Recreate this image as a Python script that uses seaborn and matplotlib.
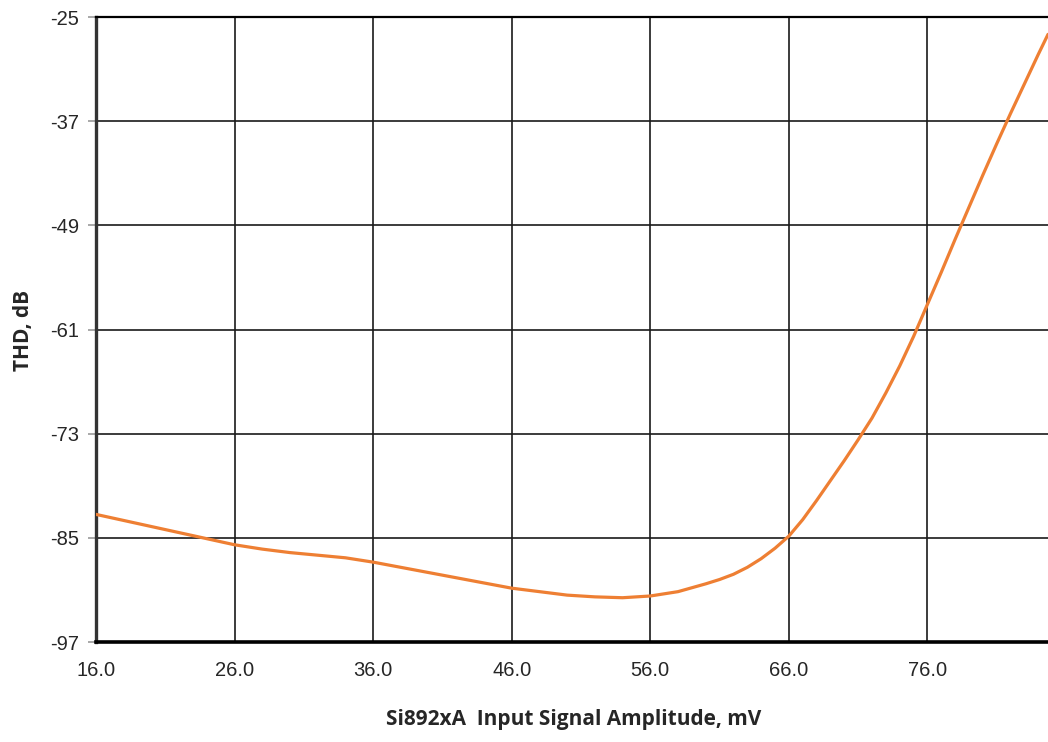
import matplotlib
matplotlib.use("Agg")
import matplotlib.pyplot as plt
import seaborn as sns
import pandas as pd

# Data
amplitude_mv = [16, 18, 20, 22, 24, 26, 28, 30, 32, 34, 36, 38, 40, 42, 44, 46, 48, 50,
                52, 54, 56, 58, 60, 61, 62, 63, 64, 65, 66, 67, 68, 69, 70, 71, 72, 73,
                74, 75, 76, 77, 78, 79, 80, 81, 82, 83, 84, 84.7]
thd_db = [-82.3, -83.0, -83.7, -84.4, -85.1, -85.8, -86.3, -86.7, -87.0, -87.3, -87.8,
          -88.4, -89.0, -89.6, -90.2, -90.8, -91.2, -91.6, -91.8, -91.9, -91.7, -91.2,
          -90.3, -89.8, -89.2, -88.4, -87.4, -86.2, -84.8, -82.9, -80.7, -78.4, -76.1,
          -73.7, -71.2, -68.3, -65.2, -61.8, -58.1, -54.4, -50.6, -46.9, -43.2, -39.6,
          -36.1, -32.7, -29.3, -27.0]
x_ticks = [16, 26, 36, 46, 56, 66, 76]
x_tick_labels = ["16.0", "26.0", "36.0", "46.0", "56.0", "66.0", "76.0"]
y_ticks = [-97, -85, -73, -61, -49, -37, -25]

df = pd.DataFrame({"amp": amplitude_mv, "thd": thd_db})

sns.set_style("white")
plt.rcParams['font.family'] = ['Liberation Sans', 'DejaVu Sans']

fig = plt.figure(figsize=(10.48, 7.42), dpi=100)
ax = fig.add_axes([96/1048, 100/742, 952/1048, 625/742])

sns.lineplot(data=df, x="amp", y="thd", ax=ax, color="#EE7F33", linewidth=2.3, zorder=5)

ax.set_xlim(16, 84.7)
ax.set_ylim(-97, -25)
ax.set_xticks(x_ticks)
ax.set_xticklabels(x_tick_labels)
ax.set_yticks(y_ticks)
ax.set_yticklabels([str(v) for v in y_ticks])

ax.grid(True, color="#1a1a1a", linewidth=1.2)
ax.set_axisbelow(True)

for s in ["left", "bottom", "top"]:
    ax.spines[s].set_visible(True)
ax.spines["right"].set_visible(False)
ax.spines["left"].set_color("#333333")
ax.spines["left"].set_linewidth(2.4)
ax.spines["bottom"].set_color("black")
ax.spines["bottom"].set_linewidth(2.6)
ax.spines["top"].set_color("black")
ax.spines["top"].set_linewidth(1.6)

ax.tick_params(axis="y", which="major", length=6, width=1.2, color="#999999",
               labelsize=14.5, pad=6, left=True)
ax.tick_params(axis="x", which="major", length=0, labelsize=14.5, pad=14, bottom=True)

ax.set_xlabel("")
ax.set_ylabel("")

fig.text(574/1048, 1 - 720/742, "Si892xA  Input Signal Amplitude, mV",
         ha="center", va="center", fontsize=15, fontweight="bold",
         family=["Open Sans", "DejaVu Sans"])
fig.text(24/1048, 1 - 330/742, "THD, dB", rotation=90,
         ha="center", va="center", fontsize=15, fontweight="bold",
         family=["Open Sans", "DejaVu Sans"])

fig.savefig("out.png", dpi=100)
